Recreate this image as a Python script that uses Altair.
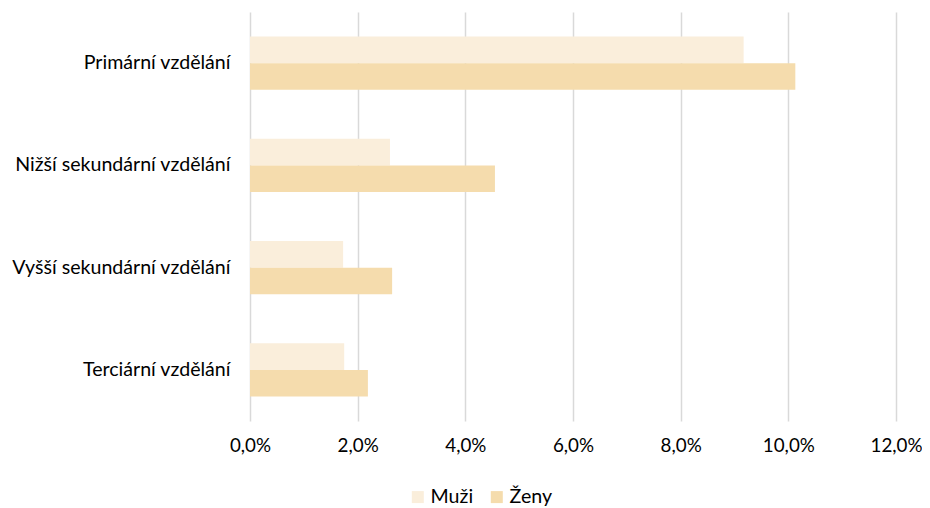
import altair as alt
import pandas as pd

categories = ["Primární vzdělání", "Nižší sekundární vzdělání", "Vyšší sekundární vzdělání", "Terciární vzdělání"]
series = ["Muži", "Ženy"]
muzi = [0.0917, 0.0260, 0.0173, 0.0175]
zeny = [0.1013, 0.0455, 0.0264, 0.0219]

rows = []
for c, m, z in zip(categories, muzi, zeny):
    rows.append({"cat": c, "sex": "Muži", "val": m})
    rows.append({"cat": c, "sex": "Ženy", "val": z})
df = pd.DataFrame(rows)

FONT = "Lato"
FS = 19.6

chart = alt.Chart(df).mark_bar().encode(
    x=alt.X("val:Q",
            scale=alt.Scale(domain=[0, 0.12], nice=False),
            axis=alt.Axis(title=None, values=[0, 0.02, 0.04, 0.06, 0.08, 0.10, 0.12],
                          labelExpr="replace(format(datum.value, '.1%'), '.', ',')",
                          domain=False, ticks=False, grid=True, gridColor="#D9D9D9",
                          gridWidth=1.5, labelFontSize=18.8, labelPadding=15,
                          labelFlush=False, labelOverlap=False,
                          labelColor="#000000", labelFont=FONT)),
    y=alt.Y("cat:N", sort=categories,
            scale=alt.Scale(paddingInner=0.48, paddingOuter=0.24),
            axis=alt.Axis(title=None, ticks=False, domain=False, labelFontSize=FS,
                          labelPadding=20, labelLimit=400,
                          labelColor="#000000", labelFont=FONT)),
    yOffset=alt.YOffset("sex:N", sort=series),
    color=alt.Color("sex:N", sort=series,
                    scale=alt.Scale(domain=series, range=["#FAEEDB", "#F5DCAD"]),
                    legend=alt.Legend(title=None, orient="none", direction="horizontal",
                                      legendX=158, legendY=475,
                                      symbolType="square", symbolSize=144,
                                      labelFontSize=FS, labelFont=FONT, labelColor="#000000",
                                      columnPadding=13, labelOffset=3, symbolStrokeWidth=0)),
).properties(
    width=646, height=409,
    autosize=alt.AutoSizeParams(type="none"),
    padding={"left": 242, "top": 4, "right": 26, "bottom": 86},
).configure_view(stroke=None)

chart.save("out.html", embed_options={"renderer": "svg", "actions": False})
